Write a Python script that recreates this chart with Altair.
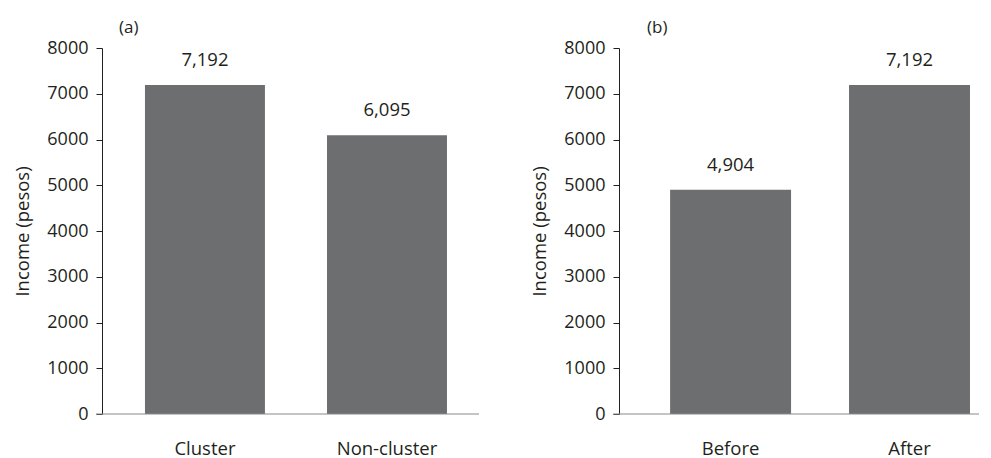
import altair as alt
import pandas as pd

# ---- data ----
panel_a_labels = ["Cluster", "Non-cluster"]
panel_a_values = [7192, 6095]
panel_b_labels = ["Before", "After"]
panel_b_values = [4904, 7192]
y_tick_values = [0, 1000, 2000, 3000, 4000, 5000, 6000, 7000, 8000]
y_title = "Income (pesos)"

FONT = "Open Sans"
TEXT = "#231f20"
BAR = "#6d6e70"
H = 366


def panel(labels, values, title, width, pi, po, align, title_dx):
    df = pd.DataFrame({"cat": labels, "val": values})
    base = alt.Chart(df)
    xs = alt.Scale(paddingInner=pi, paddingOuter=po, align=align)
    x = alt.X(
        "cat:N", sort=labels, scale=xs,
        axis=alt.Axis(title=None, labelAngle=0, ticks=False, domain=False,
                      labelPadding=25, labelFontSize=18.5, labelColor=TEXT,
                      labelFont=FONT, labelFontWeight="normal"),
    )
    y = alt.Y(
        "val:Q", scale=alt.Scale(domain=[0, 8000], nice=False),
        axis=alt.Axis(title=y_title, values=y_tick_values, format="d", grid=False,
                      tickSize=6, tickColor=TEXT, domainColor=TEXT,
                      tickWidth=1, domainWidth=1,
                      labelPadding=8, labelFontSize=18, labelColor=TEXT,
                      labelFont=FONT, titlePadding=14, titleFontSize=18.5,
                      titleFont=FONT, titleColor=TEXT, titleFontWeight="normal"),
    )
    bars = base.mark_bar(color=BAR).encode(x=x, y=y)
    text = base.mark_text(dy=-19, baseline="alphabetic", fontSize=18.5,
                          font=FONT, color=TEXT).encode(
        x=alt.X("cat:N", sort=labels), y="val:Q",
        text=alt.Text("val:Q", format=","),
    )
    baseline = alt.Chart(pd.DataFrame({"v": [0]})).mark_rule(
        color="#8a8a8a", strokeWidth=1.2
    ).encode(x=alt.value(-6), x2=alt.value(width), y=alt.value(H))
    return alt.layer(bars, text, baseline).properties(
        width=width, height=H,
        title=alt.TitleParams(title, anchor="start", frame="group", dx=title_dx,
                              fontSize=17, font=FONT, color=TEXT,
                              fontWeight="normal", offset=2),
    )


left = panel(panel_a_labels, panel_a_values, "(a)", 377, 0.341, 0.206, 0.573, 17)
right = panel(panel_b_labels, panel_b_values, "(b)", 360, 0.324, 0.168, 0.85, 28)

chart = alt.hconcat(left, right, spacing=50).properties(
    padding={"top": 11, "left": 5, "right": 0, "bottom": 0}
).configure_view(stroke=None).configure_axis(labelFont=FONT)

chart.save("out.html", embed_options={"renderer": "svg", "actions": False})
